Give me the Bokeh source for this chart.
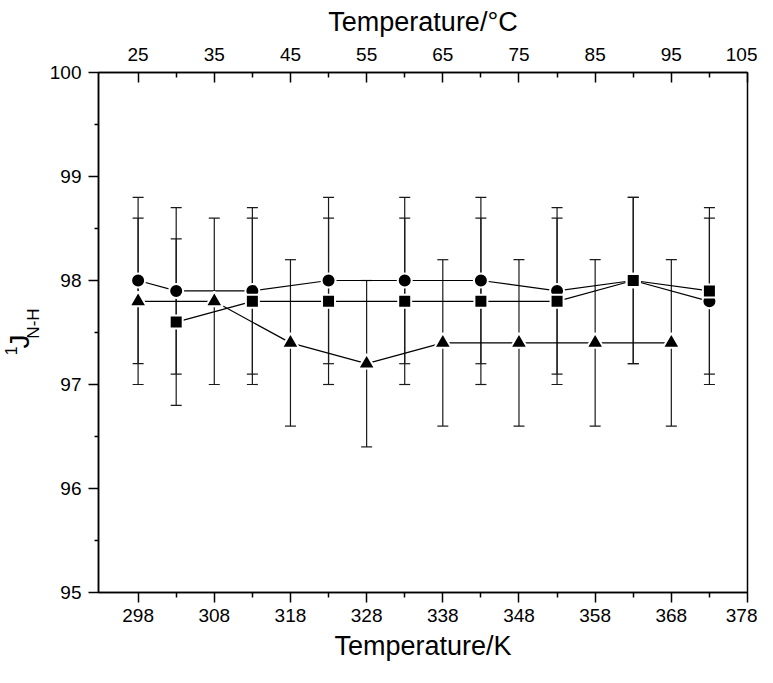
import math
from bokeh.plotting import figure
from bokeh.layouts import row
from bokeh.models import (Range1d, LinearAxis, FixedTicker, Whisker, ColumnDataSource, TeeHead)
from bokeh.core.properties import value
from bokeh.embed import file_html
from bokeh.resources import INLINE

# ---- data ----
circ_K = [298, 303, 313, 323, 333, 343, 353, 363, 373]
circ_J = [98.0, 97.9, 97.9, 98.0, 98.0, 98.0, 97.9, 98.0, 97.8]
circ_err = [0.8, 0.8, 0.8, 0.8, 0.8, 0.8, 0.8, 0.8, 0.8]

sq_K = [303, 313, 323, 333, 343, 353, 363, 373]
sq_J = [97.6, 97.8, 97.8, 97.8, 97.8, 97.8, 98.0, 97.9]
sq_err = [0.8, 0.8, 0.8, 0.8, 0.8, 0.8, 0.8, 0.8]

tri_K = [298, 308, 318, 328, 338, 348, 358, 368]
tri_J = [97.8, 97.8, 97.4, 97.2, 97.4, 97.4, 97.4, 97.4]
tri_err = [0.8, 0.8, 0.8, 0.8, 0.8, 0.8, 0.8, 0.8]

x_ticks_K = [298, 308, 318, 328, 338, 348, 358, 368, 378]
x_minor_K = [303, 313, 323, 333, 343, 353, 363, 373]
x_ticks_C = [25, 35, 45, 55, 65, 75, 85, 95, 105]
x_minor_C = [30, 40, 50, 60, 70, 80, 90, 100]
y_ticks = [95, 96, 97, 98, 99, 100]
y_minor = [95.5, 96.5, 97.5, 98.5, 99.5]

y_title_parts = ["1", "J", "N-H"]

x_lo, x_hi = 292.8, 378.0
y_lo, y_hi = 95.0, 100.0
K0 = 273.0

FONT = "Liberation Sans"
W, H = 757, 667
LW = 45  # width of the strip holding the y title

p = figure(width=W - LW, height=H, output_backend="svg", toolbar_location=None,
           x_range=Range1d(x_lo, x_hi), y_range=Range1d(y_lo, y_hi),
           min_border_left=98 - LW, min_border_right=10, min_border_top=72, min_border_bottom=75)
p.extra_x_ranges = {"C": Range1d(x_lo - K0, x_hi - K0)}
p.xgrid.visible = False
p.ygrid.visible = False
p.outline_line_color = "black"
p.outline_line_width = 1.5

def style_axis(ax, tin, tout, min_in, min_out):
    ax.axis_line_color = "black"
    ax.axis_line_width = 1.5
    ax.major_tick_line_color = "black"
    ax.minor_tick_line_color = "black"
    ax.major_tick_line_width = 1.5
    ax.minor_tick_line_width = 1.5
    ax.major_tick_in = tin
    ax.major_tick_out = tout
    ax.minor_tick_in = min_in
    ax.minor_tick_out = min_out
    ax.major_label_text_font = FONT
    ax.major_label_text_font_size = "19px"
    ax.major_label_text_color = "black"
    ax.axis_label_text_font = FONT
    ax.axis_label_text_font_size = "27px"
    ax.axis_label_text_font_style = "normal"
    ax.axis_label_text_color = "black"

xa = p.xaxis[0]
xa.ticker = FixedTicker(ticks=x_ticks_K, minor_ticks=x_minor_K)
xa.axis_label = "Temperature/K"
style_axis(xa, 0, 10, 0, 5)
xa.major_label_standoff = 6
xa.axis_label_standoff = 6

ya = p.yaxis[0]
ya.ticker = FixedTicker(ticks=y_ticks, minor_ticks=y_minor)
ya.axis_label = None
style_axis(ya, 0, 10, 0, 4)
ya.major_label_standoff = 7

top = LinearAxis(x_range_name="C")
top.ticker = FixedTicker(ticks=x_ticks_C, minor_ticks=x_minor_C)
top.axis_label = "Temperature/°C"
style_axis(top, 10, 0, 5, 0)
top.major_label_standoff = 12
top.axis_label_standoff = 8
p.add_layout(top, "above")

# error bars
for K, J, E in [(circ_K, circ_J, circ_err), (sq_K, sq_J, sq_err), (tri_K, tri_J, tri_err)]:
    src = ColumnDataSource(dict(x=K, up=[j + e for j, e in zip(J, E)],
                                lo=[j - e for j, e in zip(J, E)]))
    w = Whisker(source=src, base="x", upper="up", lower="lo", dimension="height",
                line_color="#1a1a1a", line_width=1.2,
                upper_head=TeeHead(size=11, line_color="#1a1a1a", line_width=1.2),
                lower_head=TeeHead(size=11, line_color="#1a1a1a", line_width=1.2))
    p.add_layout(w)

# connecting lines
p.line(circ_K, circ_J, line_color="black", line_width=1.2)
p.line(sq_K, sq_J, line_color="black", line_width=1.2)
p.line(tri_K, tri_J, line_color="black", line_width=1.2)

# markers with white halo
p.scatter(circ_K, circ_J, marker="circle", size=14, fill_color="black",
          line_color="white", line_width=2)
p.scatter(sq_K, sq_J, marker="square", size=13, fill_color="black",
          line_color="white", line_width=2)
p.scatter(tri_K, tri_J, marker="triangle", size=17, fill_color="black",
          line_color="white", line_width=2)

# ---- strip with the rotated y title  ¹J(N-H) ----
lab = figure(width=LW, height=H, output_backend="svg", toolbar_location=None,
             x_range=Range1d(0, LW), y_range=Range1d(H, 0),
             x_axis_location=None, y_axis_location=None,
             min_border_left=0, min_border_right=0, min_border_top=0, min_border_bottom=0)
lab.outline_line_color = None
lab.xgrid.visible = False
lab.ygrid.visible = False
lab.text(x=[10], y=[357], text=[y_title_parts[0]], angle=math.pi / 2,
         text_font=value(FONT), text_font_size=value("16px"), text_color="black",
         text_align="center", text_baseline="middle")
lab.text(x=[19], y=[345], text=[y_title_parts[1]], angle=math.pi / 2,
         text_font=value(FONT), text_font_size=value("28px"), text_color="black",
         text_align="center", text_baseline="middle")
lab.text(x=[33], y=[322], text=[y_title_parts[2]], angle=math.pi / 2,
         text_font=value(FONT), text_font_size=value("17px"), text_color="black",
         text_align="center", text_baseline="middle")

layout = row(lab, p)
open("out.html", "w").write(file_html(layout, INLINE))
